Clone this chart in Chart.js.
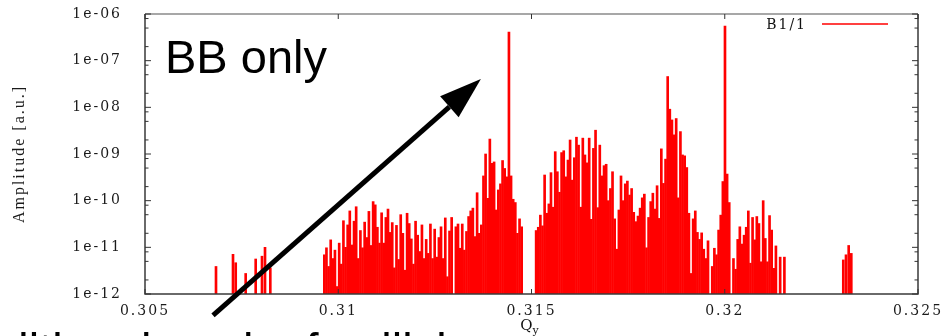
<!DOCTYPE html>
<html>
<head>
<meta charset="utf-8">
<script src="https://cdn.jsdelivr.net/npm/chart.js@4.4.1/dist/chart.umd.min.js"></script>
<style>
  html, body { margin: 0; padding: 0; background: #fff; }
</style>
</head>
<body>
<canvas id="myChart" width="946" height="336"></canvas>
<script>
    // axes
    const xTicks = [0.305, 0.31, 0.315, 0.32, 0.325];
    const xTickLabels = ['0.305', '0.31', '0.315', '0.32', '0.325'];
    const yMajor = [1e-12, 1e-11, 1e-10, 1e-9, 1e-8, 1e-7, 1e-6];
    const yTickLabels = ['1e-12', '1e-11', '1e-10', '1e-09', '1e-08', '1e-07', '1e-06'];
    const yMinorMult = [2, 5, 8];

    // spectrum, stored as log10(amplitude); null = empty bin
    const binWidth = 0.0000549;

    const lowLinesQ = [0.306837, 0.307277, 0.307347, 0.307605, 0.307864, 0.308027, 0.308105, 0.308242];
    const lowLinesLog = [-11.41, -11.15, -11.33, -11.56, -11.25, -11.19, -11.0, -11.44];

    const band1Start = 0.30964;
    const band1Log = [
      -11.16, -11.01, -11.41, -10.84, -11.24, -11.06, -11.84, -10.91, -11.36, -10.43,
      -11.0, -10.52, -10.22, -10.95, -10.44, -10.13, -11.24, -10.64, -11.01, -10.46,
      -10.79, -10.23, -10.96, -10.02, -10.09, -10.57, -10.91, -10.26, -10.91, -10.36,
      -10.18, -10.68, -10.47, -11.44, -10.53, -11.26, -10.30, -10.70, -11.49, -10.27,
      -10.49, -10.82, -11.36, -10.44, -10.74, -11.09, -10.52, -11.24, -10.83, -11.13,
      -10.50, -11.24, -10.61, -11.21, -10.79, -10.56, -11.24, -10.37, -11.63, -10.65,
      -10.36, null, -10.56, -10.50, -11.02, -10.50, -11.06, -10.66, -10.34, -10.22,
      -10.16, -10.77, -9.83, -10.70, -10.52, -9.47, -9.0, -9.95, -8.68, -9.20,
      -9.17, -10.20, -9.77, -9.64, -9.14, -9.31, -9.49, -6.39, -9.47, -9.97,
      -10.04, -10.70, -10.39, -10.56
    ];

    const band2Start = 0.31512;
    const band2Log = [
      -10.64, -10.57, -10.31, -10.54, -9.45, -10.27, -10.07, -9.40, -10.14, -8.95,
      -9.38, -9.82, -8.97, -8.93, -9.49, -9.13, -8.70, -9.56, -9.08, -8.64,
      -8.81, -10.14, -8.66, -9.02, -9.19, -8.66, -10.40, -8.88, -8.49, -10.15,
      -8.81, -9.47, -9.25, -9.22, -10.0, -9.74, -9.38, -10.39, -11.04, -10.20,
      -9.47, -10.0, -9.64, -9.58, -9.88, -9.74, -10.25, -10.45, -10.33, -10.16,
      -9.94,
      -9.86, -11.01, -10.36, -10.02, -9.84, -10.18, -9.68, -10.38, -8.89, -9.63,
      -9.11, -7.34, -8.04, -8.27, -8.59, -8.24, -9.94, -8.52, -9.02, -9.04,
      -9.29, -10.27, -11.56, -10.39, -10.22, -10.68, -10.83, -10.69, -11.04, -11.24,
      -10.86, null, -11.41, -11.02, -11.16, -10.63, -10.31, -9.59, -6.26, -9.43,
      -10.04, null, -11.24, -11.47, -10.83, -10.56, -10.93, -10.74, -10.57,
      -10.22, -11.34, -10.36, -10.84, -10.34, -10.49, -11.31, -10.0, -10.81, -11.31,
      -10.32, -10.63, -11.45, -10.97, null, -11.21, null, -11.21
    ];

    const highLinesQ = [0.323067, 0.323137, 0.323207, 0.323274];
    const highLinesLog = [-11.27, -11.16, -10.96, -11.13];

    // annotation anchors in data units [Qy, amplitude]
    const arrowFrom = [0.30676, 3.5e-13];
    const arrowTo = [0.31369, 4.05e-8];
    const noteText = 'BB only';
    const bottomText = 'Additional peak of collisions';

    // setup
    const points = [];
    lowLinesQ.forEach((q, i) => points.push({ x: q, y: Math.pow(10, lowLinesLog[i]) }));
    band1Log.forEach((v, i) => {
      if (v !== null) points.push({ x: band1Start + i * binWidth, y: Math.pow(10, v) });
    });
    band2Log.forEach((v, i) => {
      if (v !== null) points.push({ x: band2Start + i * binWidth, y: Math.pow(10, v) });
    });
    highLinesQ.forEach((q, i) => points.push({ x: q, y: Math.pow(10, highLinesLog[i]) }));

    const data = {
      datasets: [
        {
          label: 'B1/1',
          data: points,
          backgroundColor: '#ff0000',
          borderWidth: 0,
          barThickness: 2,
        },
      ],
    };

    // frame, inward ticks, legend, arrow and texts
    const gnuplotDecor = {
      id: 'gnuplotDecor',
      beforeDraw(chart) {
        // gnuplot's labels in the picture are wide
        chart.ctx.letterSpacing = '2px';
      },
      afterDraw(chart) {
        const { ctx, chartArea: { left, right, top, bottom }, scales: { x, y } } = chart;
        ctx.save();

        // border
        ctx.lineWidth = 1.5;
        ctx.strokeStyle = '#8a8a8a';
        ctx.beginPath();
        ctx.moveTo(left, top);
        ctx.lineTo(right, top);
        ctx.stroke();
        ctx.strokeStyle = '#3a3a3a';
        ctx.beginPath();
        ctx.moveTo(left, top);
        ctx.lineTo(left, bottom);
        ctx.lineTo(right, bottom);
        ctx.lineTo(right, top);
        ctx.stroke();

        // ticks
        ctx.lineWidth = 1;
        ctx.strokeStyle = '#333';
        const tick = (x0, y0, x1, y1) => {
          ctx.beginPath();
          ctx.moveTo(x0, y0);
          ctx.lineTo(x1, y1);
          ctx.stroke();
        };
        yMajor.forEach((v, i) => {
          const py = y.getPixelForValue(v);
          tick(left, py, left + 6, py);
          tick(right, py, right - 6, py);
          if (i < yMajor.length - 1) {
            yMinorMult.forEach((m) => {
              const pm = y.getPixelForValue(v * m);
              tick(left, pm, left + 3.5, pm);
              tick(right, pm, right - 3.5, pm);
            });
          }
        });
        xTicks.forEach((v) => {
          const px = x.getPixelForValue(v);
          tick(px, bottom, px, bottom - 5);
          tick(px, top, px, top + 5);
        });

        // legend
        ctx.letterSpacing = '2px';
        ctx.font = '14px "DejaVu Serif"';
        ctx.fillStyle = '#111';
        ctx.textAlign = 'right';
        ctx.textBaseline = 'middle';
        ctx.fillText('B1/1', right - 111, top + 11);
        ctx.strokeStyle = '#ff0000';
        ctx.lineWidth = 1.5;
        tick(right - 96, top + 10, right - 30, top + 10);

        // x title Q_y
        const cx = x.getPixelForValue(0.315);
        ctx.letterSpacing = '0px';
        ctx.fillStyle = '#111';
        ctx.textBaseline = 'alphabetic';
        ctx.font = '15px "DejaVu Serif"';
        ctx.textAlign = 'right';
        ctx.fillText('Q', cx + 1, bottom + 36);
        ctx.font = '11px "DejaVu Serif"';
        ctx.textAlign = 'left';
        ctx.fillText('y', cx + 1, bottom + 40);

        // note
        ctx.fillStyle = '#000';
        ctx.font = '47px "Liberation Sans"';
        ctx.fillText(noteText, left + 20, top + 59);
        ctx.fillText(bottomText, -55, bottom + 72);

        // arrow
        const x0 = x.getPixelForValue(arrowFrom[0]);
        const y0 = y.getPixelForValue(arrowFrom[1]);
        const x1 = x.getPixelForValue(arrowTo[0]);
        const y1 = y.getPixelForValue(arrowTo[1]);
        const ang = Math.atan2(y1 - y0, x1 - x0);
        const headLen = 42;
        const headHalf = 14;
        const bx = x1 - headLen * Math.cos(ang);
        const by = y1 - headLen * Math.sin(ang);
        ctx.strokeStyle = '#000';
        ctx.lineWidth = 5;
        tick(x0, y0, bx, by);
        ctx.beginPath();
        ctx.moveTo(x1, y1);
        ctx.lineTo(bx + headHalf * Math.sin(ang), by - headHalf * Math.cos(ang));
        ctx.lineTo(bx - headHalf * Math.sin(ang), by + headHalf * Math.cos(ang));
        ctx.closePath();
        ctx.fill();

        ctx.restore();
      },
    };

    // config
    const config = {
      type: 'bar',
      data,
      options: {
        responsive: false,
        animation: false,
        layout: { padding: { top: 14, right: 28, left: 0, bottom: 0 } },
        plugins: {
          legend: { display: false },
          tooltip: { enabled: false },
        },
        scales: {
          x: {
            type: 'linear',
            min: 0.305,
            max: 0.325,
            offset: false,
            grid: { display: false },
            border: { display: false },
            afterBuildTicks: (scale) => {
              scale.ticks = xTicks.map((v) => ({ value: v }));
            },
            afterFit: (scale) => {
              scale.height = 42;
              scale.paddingLeft = 0;
              scale.paddingRight = 0;
            },
            ticks: {
              autoSkip: false,
              maxRotation: 0,
              padding: 1,
              color: '#1a1a1a',
              font: { family: 'DejaVu Serif', size: 14 },
              callback: (value, index) => xTickLabels[index],
            },
          },
          y: {
            type: 'logarithmic',
            min: 1e-12,
            max: 1e-6,
            grid: { display: false },
            border: { display: false },
            afterBuildTicks: (scale) => {
              scale.ticks = yMajor.map((v) => ({ value: v }));
            },
            afterFit: (scale) => {
              scale.width = 145;
              scale.paddingTop = 0;
              scale.paddingBottom = 0;
            },
            ticks: {
              autoSkip: false,
              padding: 15,
              color: '#1a1a1a',
              font: { family: 'DejaVu Serif', size: 14 },
              callback: (value, index) => yTickLabels[index],
            },
            title: {
              display: true,
              text: 'Amplitude [a.u.]',
              color: '#1a1a1a',
              font: { family: 'Liberation Serif', size: 16 },
              padding: { top: 10, bottom: 0 },
            },
          },
        },
      },
      plugins: [gnuplotDecor],
    };

    // render init block
    const myChart = new Chart(document.getElementById('myChart'), config);
</script>
</body>
</html>
